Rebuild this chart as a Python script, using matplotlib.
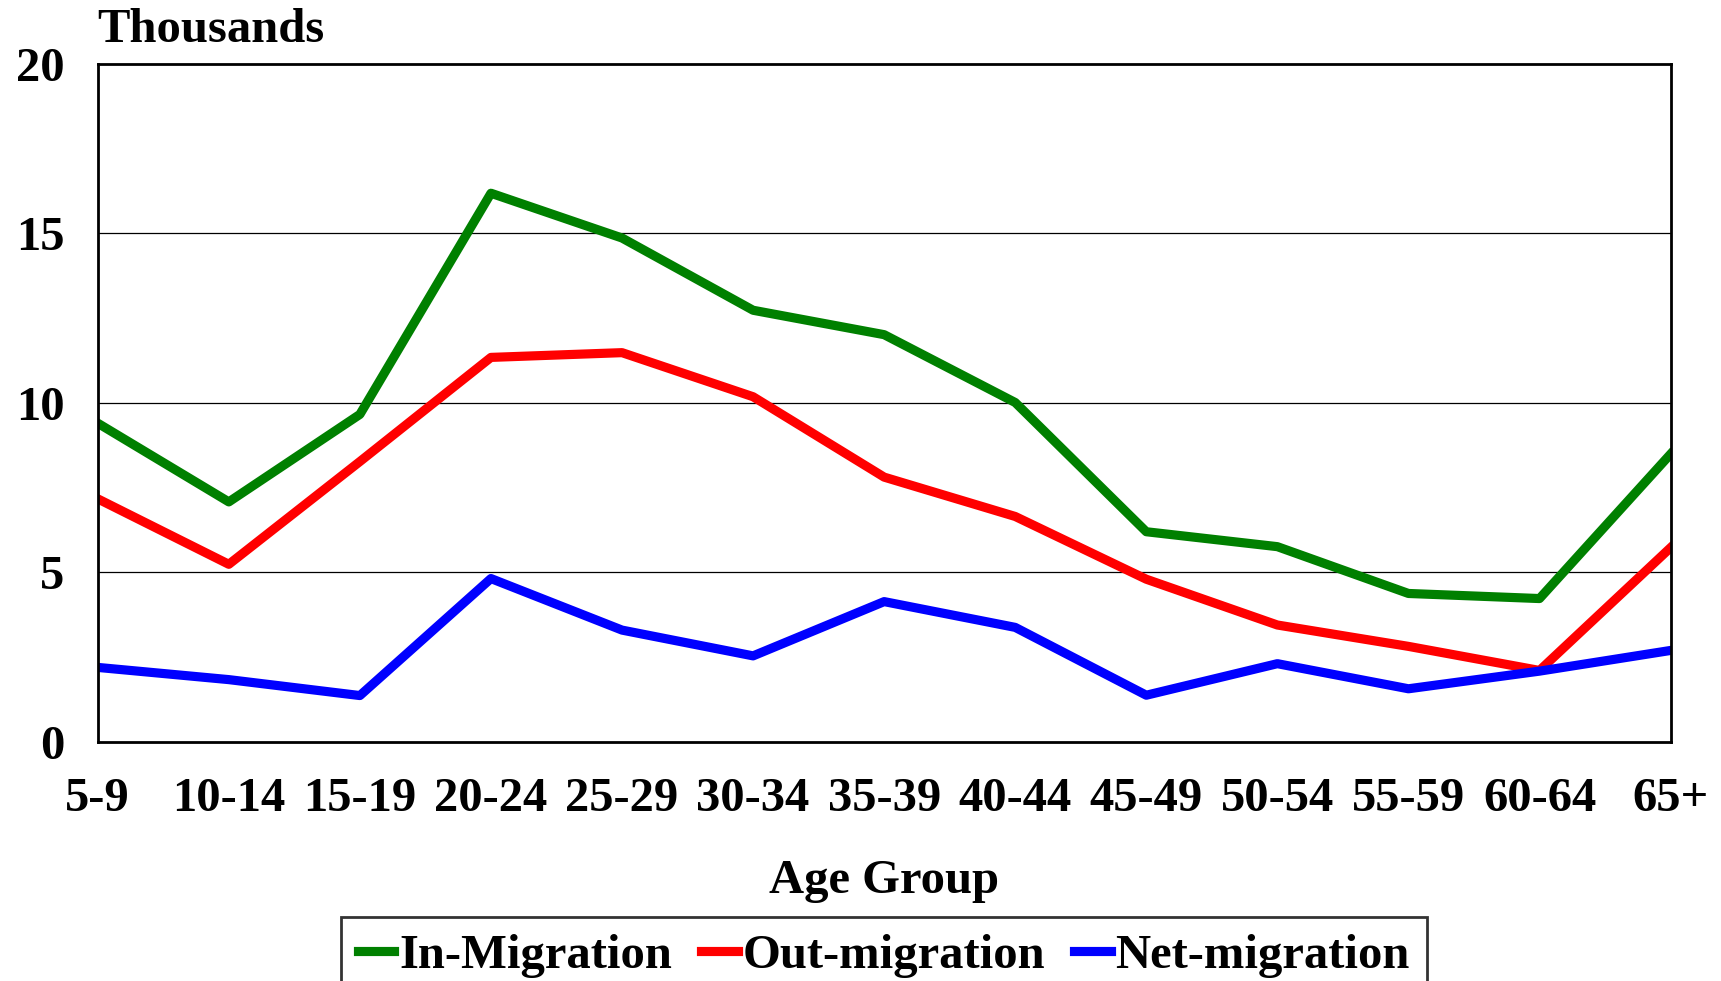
import numpy as np
import matplotlib
matplotlib.use("Agg")
import matplotlib.pyplot as plt

age_groups = ["5-9", "10-14", "15-19", "20-24", "25-29", "30-34", "35-39",
              "40-44", "45-49", "50-54", "55-59", "60-64", "65+"]
in_migration = [9.40, 7.08, 9.66, 16.18, 14.86, 12.73, 12.01,
                10.01, 6.20, 5.76, 4.38, 4.23, 8.49]
out_migration = [7.17, 5.24, 8.27, 11.34, 11.48, 10.18, 7.81,
                 6.65, 4.80, 3.45, 2.82, 2.11, 5.73]
net_migration = [2.20, 1.84, 1.37, 4.82, 3.30, 2.54, 4.14,
                 3.38, 1.38, 2.31, 1.57, 2.09, 2.70]

plt.rcParams['font.family'] = ['Liberation Serif', 'DejaVu Serif']
plt.rcParams['font.weight'] = 'bold'
fs = 35

fig = plt.figure(figsize=(17.21, 9.81), dpi=100)
ax = fig.add_axes([0.0568, 0.2436, 0.9707 - 0.0568, 0.9351 - 0.2436])

x = np.arange(len(age_groups))
lw = 6.6
ax.plot(x, in_migration, color="#008000", lw=lw, label="In-Migration")
ax.plot(x, out_migration, color="#ff0000", lw=lw, label="Out-migration")
ax.plot(x, net_migration, color="#0000ff", lw=lw, label="Net-migration")

ax.set_xlim(0, len(age_groups) - 1)
ax.set_ylim(0, 20)
ax.set_xticks(x)
ax.set_xticklabels(age_groups)
ax.set_yticks([0, 5, 10, 15, 20])
ax.tick_params(axis='both', length=0, labelsize=fs)
ax.tick_params(axis='x', pad=25)
ax.tick_params(axis='y', pad=24)
for lbl in ax.get_xticklabels() + ax.get_yticklabels():
    lbl.set_fontweight('bold')

for yv in [5, 10, 15]:
    ax.axhline(yv, color='black', lw=0.9, zorder=0)
for s in ax.spines.values():
    s.set_linewidth(2.0)
    s.set_color('black')

fig.text(97 / 1721, 1 - 8 / 981, "Thousands", ha='left', va='top',
         fontsize=fs, fontweight='bold')
fig.text(0.5136, 1 - 881 / 981, "Age Group", ha='center', va='center',
         fontsize=fs, fontweight='bold')

leg = fig.legend(loc='upper center', bbox_to_anchor=(0.5136, 1 - 917 / 981),
                 ncol=3, fontsize=fs, frameon=True, fancybox=False,
                 handlelength=0.75, handletextpad=0.1, columnspacing=0.6,
                 borderpad=0.35, borderaxespad=0)
leg.get_frame().set_edgecolor('black')
leg.get_frame().set_linewidth(2.0)
for t in leg.get_texts():
    t.set_fontweight('bold')

fig.savefig("out.png", dpi=100)
